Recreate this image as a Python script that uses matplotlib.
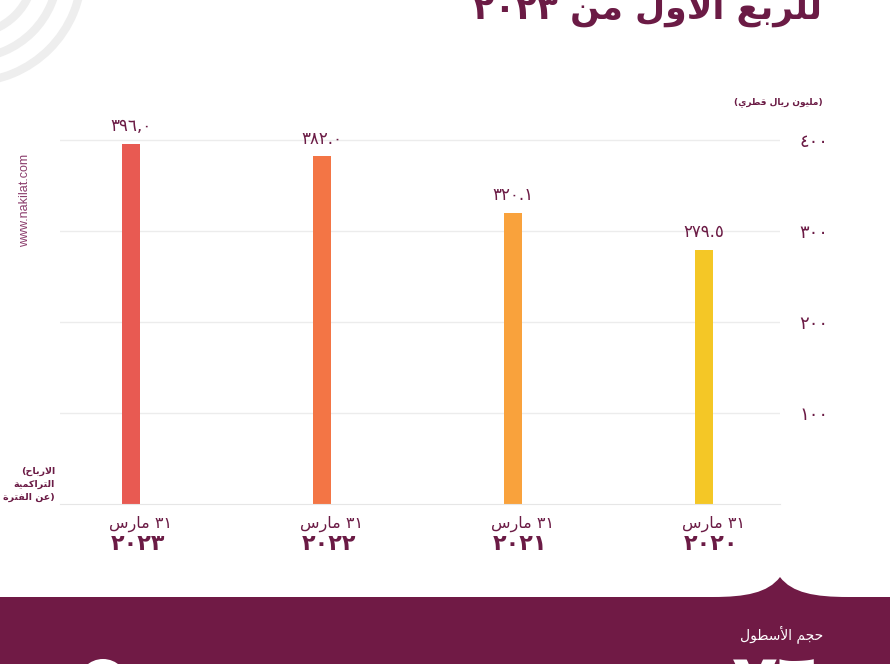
import re
import numpy as np
import matplotlib
matplotlib.use("Agg")
import matplotlib.pyplot as plt
from matplotlib.patches import Arc, PathPatch, Circle
from matplotlib.path import Path

# ---- data ----
years = ["٢٠٢٣", "٢٠٢٢", "٢٠٢١", "٢٠٢٠"]
values = [396.0, 382.0, 320.1, 279.5]
value_labels = ["٣٩٦,٠", "٣٨٢.٠", "٣٢٠.١", "٢٧٩.٥"]
yticks = [100, 200, 300, 400]
ytick_labels = ["١٠٠", "٢٠٠", "٣٠٠", "٤٠٠"]
bar_colors = ["#e85a52", "#f37545", "#f9a23c", "#f4c726"]

MAROON = "#6b1b45"
BAND = "#701a45"

# ---- minimal arabic shaping (matplotlib has no rtl/joining support) ----
_BASE = {
    0x0621: (0xFE80, 1), 0x0622: (0xFE81, 2), 0x0623: (0xFE83, 2), 0x0624: (0xFE85, 2),
    0x0625: (0xFE87, 2), 0x0626: (0xFE89, 4), 0x0627: (0xFE8D, 2), 0x0628: (0xFE8F, 4),
    0x0629: (0xFE93, 2), 0x062A: (0xFE95, 4), 0x062B: (0xFE99, 4), 0x062C: (0xFE9D, 4),
    0x062D: (0xFEA1, 4), 0x062E: (0xFEA5, 4), 0x062F: (0xFEA9, 2), 0x0630: (0xFEAB, 2),
    0x0631: (0xFEAD, 2), 0x0632: (0xFEAF, 2), 0x0633: (0xFEB1, 4), 0x0634: (0xFEB5, 4),
    0x0635: (0xFEB9, 4), 0x0636: (0xFEBD, 4), 0x0637: (0xFEC1, 4), 0x0638: (0xFEC5, 4),
    0x0639: (0xFEC9, 4), 0x063A: (0xFECD, 4), 0x0641: (0xFED1, 4), 0x0642: (0xFED5, 4),
    0x0643: (0xFED9, 4), 0x0644: (0xFEDD, 4), 0x0645: (0xFEE1, 4), 0x0646: (0xFEE5, 4),
    0x0647: (0xFEE9, 4), 0x0648: (0xFEED, 2), 0x0649: (0xFEEF, 2), 0x064A: (0xFEF1, 4),
}
_LAM_ALEF = {0x0622: 0xFEF5, 0x0623: 0xFEF7, 0x0625: 0xFEF9, 0x0627: 0xFEFB}


def shape(s):
    units = []
    i = 0
    while i < len(s):
        c = ord(s[i])
        if c == 0x0644 and i + 1 < len(s) and ord(s[i + 1]) in _LAM_ALEF:
            units.append((_LAM_ALEF[ord(s[i + 1])], 2))
            i += 2
        elif c in _BASE:
            units.append(_BASE[c])
            i += 1
        else:
            units.append(s[i])
            i += 1
    out = []
    for k, u in enumerate(units):
        if isinstance(u, str):
            out.append(u)
            continue
        iso, n = u
        prev = units[k - 1] if k > 0 else None
        nxt = units[k + 1] if k + 1 < len(units) else None
        jp = isinstance(prev, tuple) and prev[1] == 4
        jn = n == 4 and isinstance(nxt, tuple)
        if jp and jn:
            g = iso + 3
        elif jp and n >= 2:
            g = iso + 1
        elif jn:
            g = iso + 2
        else:
            g = iso
        out.append(chr(g))
    return "".join(out)


def ar(s):
    t = shape(s)[::-1].translate(str.maketrans("()", ")("))
    return re.sub(r"[0-9\u0660-\u0669.,]+", lambda m: m.group(0)[::-1], t)


plt.rcParams["font.family"] = ["DejaVu Sans"]

fig = plt.figure(figsize=(8.9, 6.64), dpi=100)
fig.patch.set_facecolor("white")

# decoration layer in pixel coords (top-down)
deco = fig.add_axes([0, 0, 1, 1], zorder=0)
deco.set_xlim(0, 890)
deco.set_ylim(664, 0)
deco.axis("off")

for r in (64, 88, 112):
    deco.add_patch(Arc((-30, -30), 2 * r, 2 * r, theta1=0, theta2=360,
                       lw=6, color="#eeeeee"))

# bottom band with the dome bump
verts = [(0, 597), (713, 597),
         (745, 597), (768, 593), (780, 577),
         (792, 593), (815, 597), (848, 597),
         (890, 597), (890, 664), (0, 664), (0, 597)]
codes = [Path.MOVETO, Path.LINETO,
         Path.CURVE4, Path.CURVE4, Path.CURVE4,
         Path.CURVE4, Path.CURVE4, Path.CURVE4,
         Path.LINETO, Path.LINETO, Path.LINETO, Path.CLOSEPOLY]
deco.add_patch(PathPatch(Path(verts, codes), facecolor=BAND, edgecolor="none"))
deco.add_patch(Circle((103, 684), 25, facecolor="white", edgecolor="none"))

deco.text(822, 19, ar("للربع الأول من ٢٠٢٣"), ha="right", va="baseline",
          fontsize=25, fontweight="bold", color=MAROON)
deco.text(823, 102, ar("(مليون ريال قطري)"), ha="right", va="center",
          fontsize=6.5, fontweight="bold", color=MAROON)
for yy, line in zip((471, 484, 497), ("الارباح)", "التراكمية", "(عن الفترة")):
    deco.text(55, yy, ar(line), ha="right", va="center",
              fontsize=6.8, fontweight="bold", color=MAROON)
deco.text(25, 200, "www.nakilat.com", rotation=90, ha="center", va="center",
          fontsize=9, color="#8b3c6c", family=["Liberation Sans", "DejaVu Sans"])
deco.text(823, 634, ar("حجم الأسطول"), ha="right", va="center",
          fontsize=10, color="white")
deco.text(823, 650, "٧٦", ha="right", va="top", fontsize=54,
          fontweight="bold", color="white")

# ---- chart ----
ax = fig.add_axes([60 / 890, (664 - 504) / 664, 720 / 890, 404 / 664], zorder=1)
ax.patch.set_alpha(0)
x = np.arange(len(values))
ax.bar(x, values, width=0.094, color=bar_colors, zorder=2)
ax.set_xlim(-0.372, 3.398)
ax.set_ylim(0, 444)

ax.set_yticks(yticks)
ax.set_yticklabels(ytick_labels)
ax.yaxis.tick_right()
ax.tick_params(axis="y", length=0, pad=14, labelsize=13, labelcolor=MAROON)
ax.set_xticks([])
ax.grid(axis="y", color="#ececec", lw=1, zorder=0)
for side in ("top", "left", "right"):
    ax.spines[side].set_visible(False)
ax.spines["bottom"].set_color("#e6e6e6")

for xi, v, lab in zip(x, values, value_labels):
    ax.annotate(lab, (xi, v), xytext=(0, 6), textcoords="offset points",
                ha="center", va="bottom", fontsize=12, color=MAROON)

for xi, yr in zip(x, years):
    ax.annotate(ar("٣١ مارس"), (xi, 0), xycoords=("data", "axes fraction"),
                xytext=(7, -14), textcoords="offset points",
                ha="center", va="center", fontsize=11.5, color=MAROON)
    ax.annotate(yr, (xi, 0), xycoords=("data", "axes fraction"),
                xytext=(5, -29), textcoords="offset points",
                ha="center", va="center", fontsize=16, fontweight="bold", color=MAROON)

fig.savefig("out.png", dpi=100)
